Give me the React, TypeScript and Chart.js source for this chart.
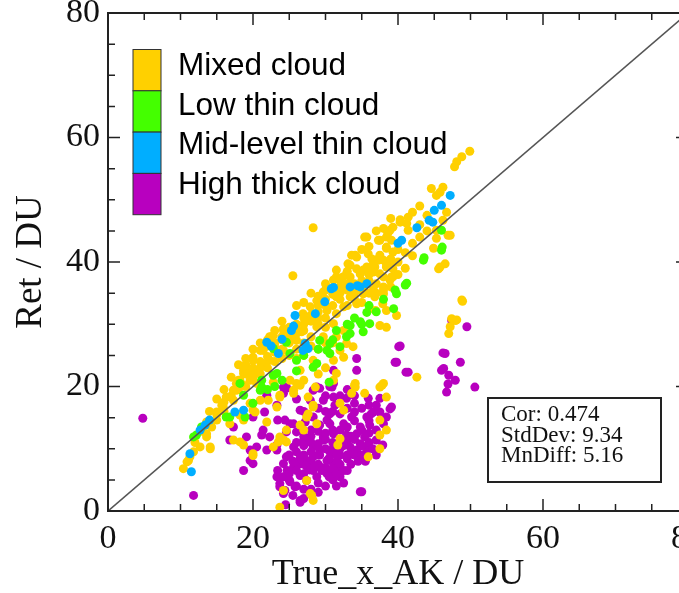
import React, { useEffect, useRef } from "react";
import { Chart, registerables } from "chart.js";

Chart.register(...registerables);

// ---------- data ----------
const axisTicks = [0, 20, 40, 60, 80];
const seriesNames = ["Mixed cloud", "Low thin cloud", "Mid-level thin cloud", "High thick cloud"];
const seriesColors = ["#FFD000", "#44FF00", "#00AEFF", "#B800BF"];
const statsLines = ["Cor: 0.474", "StdDev: 9.34", "MnDiff: 5.16"];
const oneToOne = [[0, 0], [80, 80]];

const mixedCloud = [
  [49.9,57.8],[48.8,56.9],[48.1,56.1],[47.8,55.3],[28.3,45.5],[25.5,37.8],[35.4,44.0],
  [44.6,51.8],[46.2,52.0],[45.3,50.7],[45.8,51.2],[46.7,48.0],[46.2,46.7],[47.2,44.3],[45.3,43.8],
  [44.9,42.2],[45.8,39.2],[46.5,39.7],[45.6,38.9],[46.9,44.3],[45.3,45.1],
  [41.2,46.2],[40.3,46.4],[41.4,45.1],[41.4,47.2],[40.3,46.8],[38.9,45.1],[38.4,44.0],[37.5,43.5],
  [39.1,43.5],[38.4,42.4],[39.3,41.6],[37.5,41.1],[38.0,40.3],[39.3,39.7],[35.9,41.3],[33.6,41.1],
  [34.3,40.8],[33.4,39.5],[36.4,40.5],[37.3,40.3],[36.8,39.2],[35.2,38.7],[34.3,38.9],[32.9,38.1],
  [31.5,37.6],[39.3,37.6],[38.0,45.4],[38.6,44.6],[39.3,45.6],[37.3,43.5],[38.4,42.2],[35.7,44.0],
  [34.1,41.1],[37.3,40.5],[38.4,39.7],[39.3,38.9],[33.1,39.7],[32.4,37.6],[34.8,38.1],[36.6,38.4],
  [38.0,37.6],[39.1,37.6],[36.6,35.5],[38.0,34.9],
  [31.1,37.1],[29.7,35.2],[28.8,33.8],[27.9,32.8],[26.9,31.7],[27.9,30.6],[24.2,29.3],[22.8,28.2],
  [25.1,28.0],[26.7,28.8],[21.0,25.8],[20.0,24.7],[19.1,23.1],[18.7,22.1],[17.7,20.5],[21.4,23.7],
  [22.3,24.2],[24.2,25.8],[26.0,27.4],[28.8,29.6],[30.2,32.2],[31.5,34.4],[29.7,28.0],[28.3,24.2],
  [26.5,22.6],[25.1,21.0],[20.5,22.6],[19.6,21.0],[21.0,20.5],
  [10.4,6.8],[10.9,7.9],[11.3,8.7],[12.7,10.3],[14.1,10.3],[13.6,12.4],[15.0,14.6],[15.9,16.7],
  [17.3,17.8],[17.3,19.4],[18.2,21.0],[18.7,22.6],[20.0,24.2],[21.4,25.8],[22.3,28.0],[24.2,29.0],
  [17.3,11.4],[18.2,11.1],[20.0,8.9],[22.8,10.3],[24.2,11.4],[24.6,13.0],[26.5,13.8],[27.4,15.1],
  [28.3,17.0],[28.6,19.9],[25.6,19.4],[23.7,18.3],[23.3,16.7],[21.0,17.8],[20.0,16.2],[18.7,14.6],
  [16.8,14.0],[24.2,3.3],[23.7,0.6],[27.9,2.8],[28.3,1.7],
  [14.1,10.0],[13.6,11.9],[11.8,9.5],[11.1,8.1],[18.7,10.6],[20.0,9.2],[22.1,17.8],[21.9,14.3],
  [23.5,11.1],[20.3,15.9],[18.2,15.4],[19.6,17.3],[15.0,15.9],[13.6,14.3],[14.3,13.5],[15.7,17.0],
  [16.3,18.3],[17.7,19.4],[18.7,20.2],[20.5,20.5],[22.8,20.7],
  [23.7,18.6],[26.5,20.2],[25.6,18.9],[27.6,18.3],[28.3,16.7],[27.6,15.6],[27.0,13.0],[24.6,11.1],
  [23.7,11.9],[28.8,14.0],[32.0,17.3],[32.5,16.2],[32.0,11.6],[31.7,10.6],[33.6,18.9],[34.0,20.2],
  [37.5,19.9],[38.4,18.3],[35.4,18.9],[37.5,14.6],[38.4,13.0],[37.5,12.2],[37.5,10.0],[35.9,8.7],
  [27.4,4.9],[28.1,2.5],
  [36.6,39.7],[38.4,39.2],[48.8,33.9],[47.4,30.9],[47.9,30.6],[47.2,29.6],[47.0,28.5],[42.6,21.5],
  [34.1,20.5],[37.8,20.2],[31.5,38.7],[32.0,37.1],[33.4,37.6],[34.8,38.1],[35.7,39.2],[37.5,38.1],
  [38.9,37.1],[36.8,34.4],[37.9,33.3],[36.9,32.2],[38.4,32.2],[39.8,31.4],[37.5,29.8],[38.4,29.5],
  [36.1,32.5],[35.2,34.9],[34.3,33.3],[33.4,34.4],[32.5,32.8],[31.5,31.7],[31.1,30.1],[32.5,29.0],
  [31.5,28.0],[32.9,26.9],[32.0,25.8],[31.1,24.2],[32.5,24.7],[33.8,26.4],[31.5,22.1],[31.1,21.0],
  [48.9,33.7],[48.1,30.7],[34.1,19.9],[38.0,20.5],
  [23.0,27.0],[24.0,27.5],[25.0,29.5],[26.0,30.0],[27.0,31.0],[28.0,31.5],[29.0,33.0],[30.0,34.0],
  [30.0,35.5],[32.0,36.0],[33.0,36.5],[32.0,35.0],[34.0,36.5],[35.0,37.0],[29.0,31.0],[30.0,31.0],
  [31.0,33.0],[27.0,29.0],[26.0,28.5],[25.0,27.0],[24.0,26.0],[23.0,25.5],[22.0,26.5],[21.0,24.0],
  [20.0,22.5],[19.0,22.0],[18.0,19.5],[17.0,18.5],[16.0,17.5],[15.0,15.5],[14.0,14.5],[13.0,12.8],
  [12.0,11.0],[16.0,16.0],[18.0,21.0],[19.0,23.5],[20.0,23.0],[21.0,22.0],[22.0,23.0],[23.0,24.0],
  [24.0,24.5],[25.0,25.0],[26.0,26.0],[27.0,27.0],[28.0,28.0],[29.0,30.0],[30.0,29.5],[28.0,26.5],
  [27.0,25.0],[26.0,24.5],[29.0,26.0],[30.0,27.0],[31.0,27.0],[30.0,23.0],[29.0,22.0],[27.0,21.0],
  [26.0,20.5],
  [19.0,20.0],[20.0,21.5],[21.0,23.0],[22.0,24.8],[23.0,26.3],[24.0,28.0],[25.0,28.8],[26.0,29.3],
  [27.0,30.0],[28.0,30.5],[29.0,32.0],[30.0,33.0],[31.0,34.8],[32.0,34.0],[33.0,35.5],[34.0,35.0],
  [35.0,36.0],[36.0,37.0],[37.0,36.5],[38.0,36.0],[39.0,36.0],[35.0,35.5],[36.0,38.0],[33.0,38.5],
  [30.0,36.5],[29.0,34.5],[28.0,35.0],[27.0,33.5],[26.0,33.0],[24.0,30.5],[23.0,29.0],[22.0,27.5],
  [21.0,27.0],[20.0,26.0],[19.0,24.5],[18.0,23.5],[17.0,21.5],[16.0,19.5],[15.0,18.0],[14.0,16.0],
  [33.0,33.0],[34.0,34.0],[35.0,33.5],[36.0,35.0],[37.0,35.0],[38.0,35.5],[40.0,40.0],[41.0,41.5],
  [42.0,43.0],[43.0,44.0],[42.0,41.0],[41.0,39.0],[40.0,38.0],[39.0,40.5],[40.0,42.0],[36.0,42.5],
  [35.0,42.0],[37.0,45.0],[39.0,47.0],[42.0,48.0],[43.0,49.0],[44.0,47.5],[43.0,46.0],[44.0,45.0],
];

const lowThinCloud = [
  [46.0,45.1],[46.1,42.4],[46.0,41.9],[43.6,40.7],[43.5,40.3],[41.0,36.3],[39.6,35.5],[39.8,34.9],
  [41.2,36.6],[39.4,32.5],[35.7,31.9],[34.8,30.4],[36.1,30.1],[33.4,29.8],[35.2,28.8],[32.9,28.0],
  [32.0,26.4],[33.4,28.5],[30.6,25.3],[30.6,26.9],
  [24.6,27.1],[22.8,26.1],[28.8,23.7],[22.8,21.8],[26.0,24.2],[30.2,25.8],[31.5,29.0],[18.2,20.5],
  [21.2,21.0],
  [11.8,11.9],[16.8,15.1],[20.0,17.3],[21.0,19.4],[23.3,22.1],[25.1,25.3],[28.3,23.1],[29.2,27.4],
  [12.2,12.2],[12.9,13.5],[16.3,15.1],[18.7,18.6],[21.2,19.9],[18.9,15.1],
  [27.0,25.0],[29.0,26.0],[31.0,27.5],[33.0,30.0],[34.0,31.0],[35.0,30.0],[36.0,33.0],[37.0,32.0],
  [38.0,34.0],[26.0,22.5],[24.0,21.0],[22.0,19.5],[23.0,20.0],[30.5,20.7],
];

const midLevelThinCloud = [
  [47.2,50.7],[46.0,49.1],[45.0,48.3],[44.3,46.7],[44.8,46.4],[42.6,45.5],[40.5,43.5],[40.0,43.0],
  [33.4,36.0],[35.7,36.5],[34.4,36.2],[31.1,35.9],[34.8,36.0],
  [30.8,35.7],[29.9,33.6],[25.8,31.4],[25.3,29.0],[25.6,29.7],[21.9,27.1],[23.5,25.3],[27.6,26.1],
  [27.2,26.9],[28.6,31.7],
  [12.7,13.0],[11.5,6.3],[18.7,16.2],[26.9,25.8],[11.3,9.2],[17.5,15.9],
  [14.0,14.6],[13.4,13.8],[24.0,27.6],[22.5,26.5],
];

const highThickCloud = [
  [4.8,14.9],[11.8,2.5],[24.6,19.9],[28.8,19.9],[31.1,22.6],
  [21.9,18.3],[24.2,19.9],[20.0,15.1],[21.4,13.0],[19.6,9.8],[18.7,6.5],[20.0,7.6],[23.3,9.8],
  [24.6,8.7],[25.6,10.3],[23.3,5.5],[23.7,3.9],[24.2,2.8],[26.5,1.7],[26.9,7.6],[29.2,9.8],
  [31.1,7.6],[28.3,6.5],[30.2,6.0],[29.7,11.9],[30.2,14.6],[27.9,17.8],[26.5,16.2],[25.6,14.0],
  [31.1,18.3],[31.1,20.5],
  [21.9,18.6],[23.3,17.0],[24.2,18.9],[21.6,15.9],[17.3,13.5],[16.8,11.4],[19.1,11.9],[20.5,10.3],
  [21.2,12.2],[22.3,11.9],[23.3,10.6],[21.9,9.8],[23.4,14.6],[24.6,12.7],[19.6,8.1],[23.4,6.5],
  [24.2,7.6],[23.7,4.4],[24.6,5.5],
  [24.6,19.7],[28.3,19.4],[29.2,19.7],[30.9,19.9],[29.7,17.8],[31.3,17.0],[32.9,18.1],[34.0,17.3],
  [35.9,18.1],[37.5,18.1],[39.1,16.7],[36.6,15.9],[37.5,15.9],[38.4,15.1],[38.0,14.0],[35.7,15.1],
  [33.6,15.1],[32.5,14.0],[30.6,14.0],[29.2,13.8],[27.2,14.3],[25.1,14.0],[24.4,14.6],[26.0,12.7],
  [27.0,11.4],[28.3,10.3],[29.7,11.4],[31.1,12.4],[32.9,12.2],[34.3,12.4],[35.4,11.9],[37.0,11.4],
  [37.9,10.6],[37.0,9.0],[35.7,9.8],[34.3,9.8],[33.4,10.3],[32.0,10.0],[30.6,9.5],[29.2,9.0],
  [28.3,8.7],[27.4,8.1],[26.5,7.6],[25.6,7.1],[24.7,6.5],[24.2,5.5],[25.1,4.7],[24.4,3.3],
  [26.5,1.4],[34.8,3.1],[30.2,8.1],[31.6,8.1],[33.0,8.4],[29.2,7.1],[27.8,6.6],[26.5,5.7],
  [32.0,7.1],[30.6,6.3],[28.8,5.5],[27.4,4.9],[25.8,3.9],[33.4,9.2],[34.8,10.8],[36.1,13.8],
  [34.8,13.5],[32.0,15.6],[30.6,15.6],[28.3,15.1],[34.0,15.9],[36.3,15.6],
  [47.4,30.6],[49.5,29.6],[40.1,26.4],[39.8,23.9],[34.3,24.5],[34.3,22.6],[41.4,22.3],[46.5,25.3],
  [46.3,22.9],[47.0,21.8],[47.9,21.0],[48.6,23.9],[50.6,19.9],[30.6,20.0],
  [46.2,25.4],[46.0,22.6],[46.9,20.4],[46.7,19.1],[40.3,26.5],[39.6,23.9],[41.1,22.3],[38.9,16.4],
  [35.0,3.1],
  [27.0,9.0],[28.0,8.0],[29.0,7.5],[30.0,7.0],[31.0,6.8],[32.0,7.5],[33.0,9.0],[34.0,9.0],
  [35.0,10.5],[36.0,11.0],[28.0,12.0],[29.0,12.8],[30.0,12.5],[31.0,13.0],[32.0,13.0],[33.0,13.5],
  [34.0,14.5],[35.0,13.0],[36.0,14.5],[33.0,11.0],[32.0,9.0],[30.0,10.0],[31.0,10.0],[29.0,10.8],
  [27.0,10.5],[26.0,9.5],[28.0,11.0],[34.0,11.5],[35.0,9.0],[36.0,12.5],[37.0,13.0],[33.0,6.5],
  [32.0,5.5],[31.0,5.0],[29.0,4.5],[27.0,6.0],[26.0,6.5],[25.0,6.0],[25.0,9.0],[26.0,11.0],
  [27.0,12.0],[28.0,13.0],[30.0,16.0],[29.0,16.5],[31.0,16.0],[33.0,16.5],[34.0,18.5],[36.0,17.0],
  [35.0,16.5],[37.0,17.0],[32.0,18.5],[33.0,19.5],[30.0,18.5],[27.0,16.0],[26.0,18.0],
  [27.5,7.0],[28.5,7.0],[29.5,6.5],[30.5,5.5],[31.5,6.0],[32.5,6.5],[33.5,7.5],[34.5,8.0],
  [35.5,8.0],[36.5,10.0],[28.0,9.5],[29.0,9.0],[30.5,8.5],[31.5,9.0],[32.5,10.5],[33.5,12.0],
  [30.0,11.5],[31.0,11.0],[27.0,7.5],[26.5,8.5],[25.5,8.0],[25.0,5.0],[26.0,4.0],[27.0,3.5],
  [28.0,3.5],[29.0,3.0],[30.0,4.0],[31.5,4.0],[32.5,4.5],[24.5,1.0],[25.5,2.5],[27.0,2.0],
];

// ---------- helpers ----------
const toXY = (pts: number[][]) => pts.map(([x, y]) => ({ x, y }));
const serif = "'Liberation Serif', 'Times New Roman', serif";
const sans = "'Liberation Sans', Arial, sans-serif";

const framePlugin = {
  id: "idlFrame",
  afterDatasetsDraw(chart: any) {
    const { ctx, chartArea: a, scales } = chart;
    const xs = scales.x, ys = scales.y;
    ctx.save();
    ctx.strokeStyle = "#222";
    ctx.lineWidth = 2;
    ctx.strokeRect(a.left, a.top, a.right - a.left, a.bottom - a.top);
    ctx.lineWidth = 1.5;
    ctx.beginPath();
    for (let v = 0; v <= 80; v += 5) {
      const len = v % 20 === 0 ? 12 : 7;
      const px = xs.getPixelForValue(v);
      ctx.moveTo(px, a.bottom); ctx.lineTo(px, a.bottom - len);
      ctx.moveTo(px, a.top); ctx.lineTo(px, a.top + len);
      const py = ys.getPixelForValue(v);
      ctx.moveTo(a.left, py); ctx.lineTo(a.left + len, py);
      ctx.moveTo(a.right, py); ctx.lineTo(a.right - len, py);
    }
    ctx.stroke();
    ctx.restore();
  },
  afterDraw(chart: any) {
    const { ctx, chartArea: a } = chart;
    ctx.save();
    // legend
    const bx = a.left + 25, by = a.top + 36.5, bw = 28, bh = 41.3;
    seriesNames.forEach((name, i) => {
      ctx.fillStyle = seriesColors[i];
      ctx.fillRect(bx, by + i * bh, bw, bh);
      ctx.strokeStyle = "#333";
      ctx.lineWidth = 1;
      ctx.strokeRect(bx, by + i * bh, bw, bh);
      ctx.fillStyle = "#000";
      ctx.font = `31.5px ${sans}`;
      ctx.textBaseline = "alphabetic";
      ctx.textAlign = "left";
      ctx.fillText(name, a.left + 70, a.top + 62 + i * 39.5);
    });
    // stats box
    const sx = a.left + 380, sy = a.top + 385;
    ctx.strokeStyle = "#222";
    ctx.lineWidth = 2;
    ctx.strokeRect(sx, sy, 173, 84);
    ctx.fillStyle = "#111";
    ctx.font = `23px ${serif}`;
    statsLines.forEach((t, i) => ctx.fillText(t, sx + 13, sy + 23 + i * 20.5));
    ctx.restore();
  },
};

export default function App() {
  const ref = useRef<HTMLCanvasElement | null>(null);
  useEffect(() => {
    if (!ref.current) return;
    const pointDs = (label: string, pts: number[][], color: string, order: number) => ({
      type: "scatter" as const,
      label,
      data: toXY(pts),
      backgroundColor: color,
      borderWidth: 0,
      pointRadius: 4.5,
      pointHoverRadius: 4.5,
      order,
    });
    const chart = new Chart(ref.current, {
      type: "scatter",
      data: {
        datasets: [
          {
            type: "line" as const,
            label: "1:1",
            data: toXY(oneToOne),
            borderColor: "#555",
            borderWidth: 1.6,
            pointRadius: 0,
            fill: false,
            order: 0,
          } as any,
          pointDs(seriesNames[2], midLevelThinCloud, seriesColors[2], 1),
          pointDs(seriesNames[1], lowThinCloud, seriesColors[1], 2),
          pointDs(seriesNames[0], mixedCloud, seriesColors[0], 3),
          pointDs(seriesNames[3], highThickCloud, seriesColors[3], 4),
        ],
      },
      options: {
        responsive: false,
        animation: false,
        events: [],
        layout: { padding: { left: 0, right: 32, top: 13, bottom: 0 } },
        plugins: { legend: { display: false }, tooltip: { enabled: false } },
        scales: {
          x: {
            type: "linear",
            min: 0,
            max: 80,
            afterBuildTicks: (s: any) => { s.ticks = axisTicks.map((v) => ({ value: v })); },
            afterFit: (s: any) => { s.height = 82; s.paddingLeft = 0; s.paddingRight = 0; },
            grid: { display: false, drawTicks: false },
            border: { display: false },
            ticks: { color: "#111", padding: 8, font: { family: serif, size: 34 }, maxRotation: 0 },
            title: {
              display: true,
              text: "True_x_AK / DU",
              color: "#111",
              font: { family: serif, size: 36, lineHeight: 1 },
              padding: { top: 0, bottom: 0 },
            },
          },
          y: {
            type: "linear",
            min: 0,
            max: 80,
            afterBuildTicks: (s: any) => { s.ticks = axisTicks.map((v) => ({ value: v })); },
            afterFit: (s: any) => { s.width = 108; s.paddingTop = 0; s.paddingBottom = 0; },
            grid: { display: false, drawTicks: false },
            border: { display: false },
            ticks: { color: "#111", padding: 8, font: { family: serif, size: 34 } },
            title: {
              display: true,
              text: "Ret / DU",
              color: "#111",
              font: { family: serif, size: 37, lineHeight: 1 },
              padding: { top: 13, bottom: 0 },
            },
          },
        },
      },
      plugins: [framePlugin],
    });
    return () => chart.destroy();
  }, []);

  return (
    <div style={{ position: "fixed", left: 0, top: 0, width: 679, height: 593, overflow: "hidden", background: "#fff" }}>
      <canvas ref={ref} width={720} height={593} style={{ display: "block" }} />
    </div>
  );
}
